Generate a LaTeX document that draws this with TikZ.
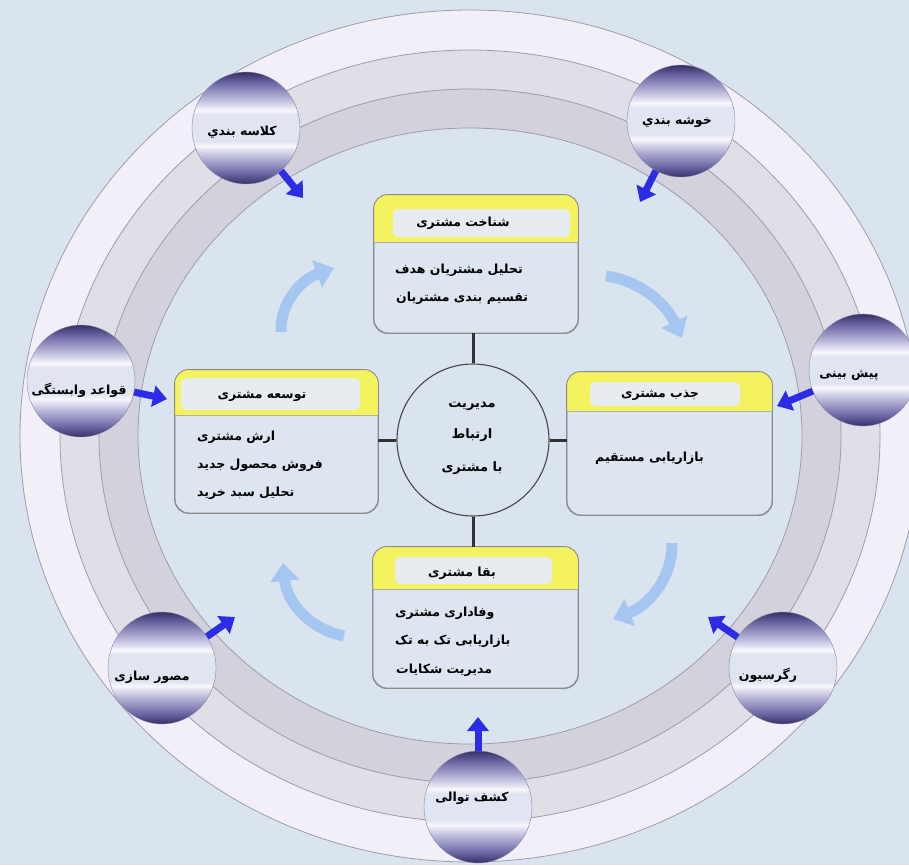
\documentclass[tikz,border=0pt]{standalone}
\usepackage{fontspec}
\usetikzlibrary{arrows.meta,shapes.geometric}
\TeXXeTstate=1
\newfontfamily\arfont[Script=Arabic]{DejaVu Sans}
\newcommand{\fa}[1]{\beginR #1\endR}
\definecolor{bgc}{HTML}{DAE4EF}
\definecolor{ringA}{HTML}{F2EFF8}
\definecolor{ringB}{HTML}{E0DEE7}
\definecolor{ringC}{HTML}{D3D1DC}
\definecolor{ringL}{HTML}{9E9CA8}
\definecolor{sphD}{HTML}{363068}
\definecolor{sphM}{HTML}{6E6AA6}
\definecolor{sphL}{HTML}{BAB8DA}
\definecolor{sphW}{HTML}{F7F7FC}
\definecolor{sphB}{HTML}{E1E5F1}
\definecolor{hdrY}{HTML}{F4F25E}
\definecolor{hdrI}{HTML}{E6ECEF}
\definecolor{boxF}{HTML}{DCE5F0}
\definecolor{boxL}{HTML}{8C8C8C}
\definecolor{arrB}{HTML}{2C2CE6}
\definecolor{arcB}{HTML}{A6C6F2}
\definecolor{connC}{HTML}{333333}
\pgfdeclareverticalshading{sphshade}{100bp}{color(0bp)=(sphD); color(25bp)=(sphD); color(30bp)=(sphM); color(37bp)=(sphL); color(42bp)=(sphW); color(44bp)=(sphB); color(56bp)=(sphB); color(58bp)=(sphW); color(63bp)=(sphL); color(70bp)=(sphM); color(75bp)=(sphD); color(100bp)=(sphD)}
\tikzset{
  sph/.style={ellipse, minimum width=108pt, minimum height=112pt, inner sep=0pt, shading=sphshade, draw=sphD!60, line width=0.4pt},
  sphtxt/.style={font=\arfont\bfseries\fontsize{12.5}{14}\selectfont, text=black, inner sep=0pt},
  cbox/.style={rectangle, rounded corners=14pt, fill=boxF, draw=boxL, line width=0.9pt, inner sep=0pt},
  boxline/.style={draw=boxL, line width=0.9pt},
  hdrtxt/.style={font=\arfont\bfseries\fontsize{12.5}{14}\selectfont, text=black, inner sep=0pt},
  bodytxt/.style={font=\arfont\bfseries\fontsize{12.5}{14}\selectfont, text=black, inner sep=0pt, anchor=west},
  ctxt/.style={font=\arfont\bfseries\fontsize{13}{15}\selectfont, text=black, inner sep=0pt},
  conn/.style={draw=connC, line width=3pt},
  bluearr/.style={draw=arrB, line width=7pt, -{Triangle[width=21pt,length=14pt]}},
  arcarr/.style={draw=arcB, line width=11pt, -{Triangle[width=28pt,length=18pt]}},
  ringline/.style={draw=ringL, line width=0.8pt}
}
\newcommand{\crmbox}[9]{%
  \node[cbox, minimum width={#4-#2}, minimum height={#5-#3}] (#1) at ({(#2+#4)/2},{(#3+#5)/2}) {};
  \begin{scope}
    \clip[rounded corners=14pt] (#1.north west) rectangle (#1.south east);
    \fill[hdrY] (#1.north west) rectangle ({#4},{#9+5});
    \fill[hdrI, rounded corners=5pt] (#6,#7) rectangle (#8,#9);
    \draw[draw=boxL!70, line width=0.6pt] (#2,{#9+5}) -- (#4,{#9+5});
  \end{scope}
  \draw[boxline, rounded corners=14pt] (#1.north west) rectangle (#1.south east);
}
\begin{document}
\begin{tikzpicture}[x=1pt,y=-1pt]
\useasboundingbox (0,0) rectangle (909,865);
\fill[bgc] (0,0) rectangle (909,865);
% ring
\begin{scope}
\clip (0,0) rectangle (909,865);
\filldraw[fill=ringA, ringline] (470,436) ellipse [x radius=450pt, y radius=426pt];
\filldraw[fill=ringB, ringline] (470,436) ellipse [x radius=410pt, y radius=386pt];
\filldraw[fill=ringC, ringline] (470,436) ellipse [x radius=371pt, y radius=347pt];
\filldraw[fill=bgc, ringline] (470,436) ellipse [x radius=332pt, y radius=308pt];
\end{scope}
% spheres
\node[sph] (s1) at (246,128) {};
\node[sph] (s2) at (681,121) {};
\node[sph] (s3) at (81,381) {};
\node[sph] (s4) at (863,370) {};
\node[sph] (s5) at (162,668) {};
\node[sph] (s6) at (783,668) {};
\node[sph] (s7) at (478,807) {};
\node[sphtxt] (s1t) at (242,132) {\fa{کلاسه بندي}};
\node[sphtxt] (s2t) at (677,122) {\fa{خوشه بندي}};
\node[sphtxt] (s3t) at (79,390) {\fa{قواعد وابستگی}};
\node[sphtxt] (s4t) at (849,375) {\fa{پیش بینی}};
\node[sphtxt] (s5t) at (152,677) {\fa{مصور سازی}};
\node[sphtxt] (s6t) at (768,675) {\fa{رگرسیون}};
\node[sphtxt] (s7t) at (472,798) {\fa{کشف توالی}};
% blue arrows
\coordinate (p1) at (303,198);
\coordinate (p2) at (640,202);
\coordinate (p3) at (167,399);
\coordinate (p4) at (777,406);
\coordinate (p5) at (235,617);
\coordinate (p6) at (708,617);
\coordinate (p7) at (478,717);
\draw[bluearr] (s1) -- (p1);
\draw[bluearr] (s2) -- (p2);
\draw[bluearr] (s3) -- (p3);
\draw[bluearr] (s4) -- (p4);
\draw[bluearr] (s5) -- (p5);
\draw[bluearr] (s6) -- (p6);
\draw[bluearr] (s7) -- (p7);
% boxes
\crmbox{b1}{374}{195}{578}{333}{393}{209}{570}{237}
\crmbox{b2}{175}{370}{378}{513}{181}{378}{360}{410}
\crmbox{b3}{567}{372}{772}{515}{590}{382}{740}{406}
\crmbox{b4}{373}{547}{578}{688}{395}{557}{552}{584}
\node[hdrtxt] (h1) at (463,223) {\fa{شناخت مشتری}};
\node[hdrtxt] (h2) at (262,396) {\fa{توسعه مشتری}};
\node[hdrtxt] (h3) at (660,395) {\fa{جذب مشتری}};
\node[hdrtxt] (h4) at (462,573) {\fa{بقا مشتری}};
\node[bodytxt] (t1a) at (395,270) {\fa{تحلیل مشتریان هدف}};
\node[bodytxt] (t1b) at (396,298) {\fa{تقسیم بندی مشتریان}};
\node[bodytxt] (t2a) at (197,437) {\fa{ارش مشتری}};
\node[bodytxt] (t2b) at (197,465) {\fa{فروش محصول جدید}};
\node[bodytxt] (t2c) at (197,493) {\fa{تحلیل سبد خرید}};
\node[bodytxt] (t3a) at (595,458) {\fa{بازاریابی مستقیم}};
\node[bodytxt] (t4a) at (395,613) {\fa{وفاداری مشتری}};
\node[bodytxt] (t4b) at (395,641) {\fa{بازاریابی تک به تک}};
\node[bodytxt] (t4c) at (396,670) {\fa{مدیریت شکایات}};
% centre
\node[circle, minimum size=152pt, inner sep=0pt, draw=connC!90, line width=1.1pt] (c) at (473,440) {};
\node[ctxt] (c1) at (472,406) {\fa{مدیریت}};
\node[ctxt] (c2) at (472,435) {\fa{ارتباط}};
\node[ctxt] (c3) at (472,468) {\fa{با مشتری}};
\draw[conn] (c.north) -- (c.north |- b1.south);
\draw[conn] (c.south) -- (c.south |- b4.north);
\draw[conn] (c.west) -- (c.west -| b2.east);
\draw[conn] (c.east) -- (c.east -| b3.west);
% cycle arcs
\coordinate (q1a) at (281,332); \coordinate (q1b) at (334,268);
\coordinate (q2a) at (606,276); \coordinate (q2b) at (682,338);
\coordinate (q3a) at (672,543); \coordinate (q3b) at (613,619);
\coordinate (q4a) at (344,636); \coordinate (q4b) at (283,563);
\draw[arcarr] (q1a) .. controls (280,304) and (300,280) .. (q1b);
\draw[arcarr] (q2a) .. controls (636,280) and (664,300) .. (q2b);
\draw[arcarr] (q3a) .. controls (673,574) and (652,604) .. (q3b);
\draw[arcarr] (q4a) .. controls (312,630) and (287,604) .. (q4b);
\end{tikzpicture}
\end{document}
